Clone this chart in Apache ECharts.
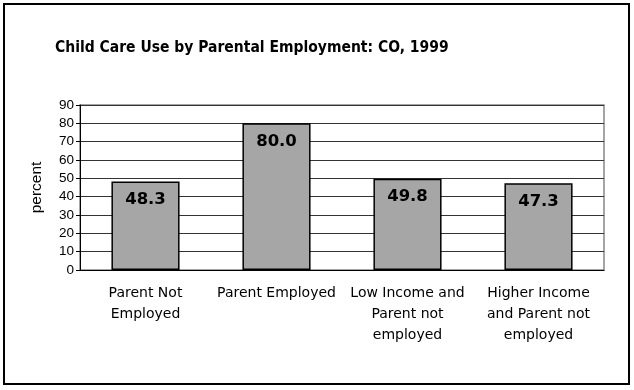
<!DOCTYPE html>
<html>
<head>
<meta charset="utf-8">
<script src="https://cdn.jsdelivr.net/npm/echarts@6/dist/echarts.min.js"></script>
<style>
  html, body { margin: 0; padding: 0; background: #fff; }
  #chart { width: 634px; height: 390px; }
</style>
</head>
<body>
<div id="chart"></div>
<script>
// Child care use by parental employment, Colorado 1999
const categories = [
  'Parent Not\nEmployed',
  'Parent Employed',
  'Low Income and\nParent not\nemployed',
  'Higher Income\nand Parent not\nemployed'
];
const values = [48.3, 80.0, 49.8, 47.3];
const yTicks = { min: 0, max: 90, interval: 10 };

const chart = echarts.init(document.getElementById('chart'));
chart.setOption({
  backgroundColor: '#ffffff',
  animation: false,
  title: {
    text: 'Child Care Use by Parental Employment: CO, 1999',
    left: 50,
    top: 35,
    textStyle: { fontFamily: 'DejaVu Sans Condensed', fontWeight: 'bold', fontSize: 15.5, color: '#000' }
  },
  graphic: [{
    type: 'rect',
    shape: { x: 4, y: 4, width: 625, height: 380 },
    style: { fill: 'none', stroke: '#000', lineWidth: 2 }
  }, {
    type: 'rect',
    shape: { x: 80, y: 105, width: 524, height: 165 },
    style: { fill: 'none', stroke: '#888', lineWidth: 1.5 },
    z: 0
  }],
  grid: { left: 80, right: 30, top: 105, bottom: 120 },
  xAxis: {
    type: 'category',
    data: categories,
    axisLine: { lineStyle: { color: '#000', width: 1 } },
    axisTick: { alignWithLabel: false, length: 5, lineStyle: { color: '#000' } },
    axisLabel: {
      interval: 0, margin: 13, lineHeight: 21,
      fontFamily: 'DejaVu Sans', fontSize: 14, color: '#000'
    }
  },
  yAxis: {
    type: 'value',
    min: yTicks.min, max: yTicks.max, interval: yTicks.interval,
    name: 'percent',
    nameLocation: 'middle',
    nameGap: 35,
    nameTextStyle: { fontFamily: 'Liberation Sans', fontSize: 15.5, color: '#000' },
    axisLine: { show: true, lineStyle: { color: '#000' } },
    axisTick: { show: true, length: 4, lineStyle: { color: '#000' } },
    axisLabel: { margin: 6, fontFamily: 'Liberation Sans', fontSize: 13.5, color: '#000' },
    splitLine: { lineStyle: { color: '#333', width: 1 } }
  },
  series: [{
    type: 'bar',
    data: values,
    barWidth: '52%',
    itemStyle: { color: '#a6a6a6', borderColor: '#000', borderWidth: 1.5 },
    label: {
      show: true,
      position: 'insideTop',
      distance: 10,
      formatter: p => p.value.toFixed(1),
      fontFamily: 'DejaVu Sans', fontWeight: 'bold', fontSize: 16.5, color: '#000'
    }
  }]
});
</script>
</body>
</html>
